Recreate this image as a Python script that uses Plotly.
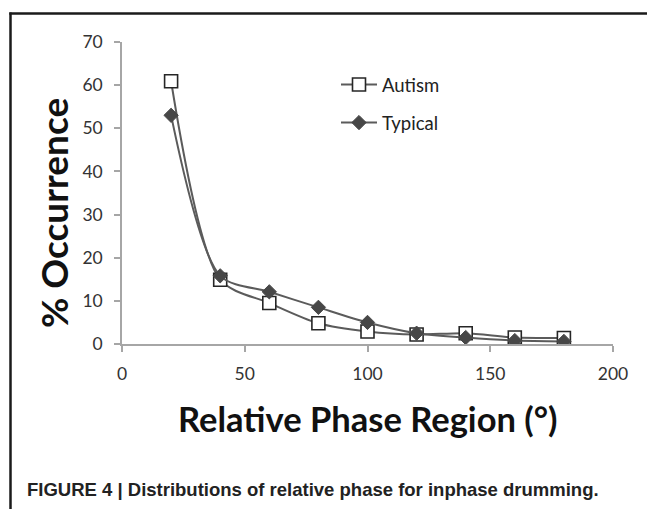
import plotly.graph_objects as go

phase = [20, 40, 60, 80, 100, 120, 140, 160, 180]
autism = [60.9, 14.9, 9.5, 4.8, 2.9, 2.2, 2.5, 1.5, 1.4]
typical = [53.0, 15.8, 12.1, 8.5, 5.0, 2.5, 1.5, 0.8, 0.6]
x_ticks = [0, 50, 100, 150, 200]
y_ticks = [0, 10, 20, 30, 40, 50, 60, 70]

OFF = 8  # page body margin
W, H = 655 - OFF, 509 - OFF
L, T = 122 - OFF, 42 - OFF
R = W - (613 - OFF)
B = H - (344 - OFF)
pw, ph = W - L - R, H - T - B

def px(x):  # page pixel -> paper
    return (x - OFF - L) / pw

def py(y):
    return (H - B - (y - OFF)) / ph

line_col = "#5b5b5b"
fig = go.Figure()
fig.add_trace(go.Scatter(
    x=phase, y=autism, name="Autism", mode="lines+markers",
    line=dict(color=line_col, width=2, shape="spline", smoothing=0.8),
    marker=dict(symbol="square", size=13, color="white",
                line=dict(color="#262626", width=1.6)),
    legendgroup="a"))
fig.add_trace(go.Scatter(
    x=phase, y=typical, name="Typical", mode="lines+markers",
    line=dict(color=line_col, width=2, shape="spline", smoothing=0.8),
    marker=dict(symbol="diamond", size=11, color="#474747",
                line=dict(color="#474747", width=1)),
    legendgroup="t"))

axis_col = "#a6a6a6"
tick_font = dict(family="Lato, Open Sans, sans-serif", size=17.5, color="#333333")
fig.update_xaxes(range=[0, 200], tickvals=x_ticks, showgrid=False, zeroline=False,
                 showline=True, linecolor=axis_col, linewidth=1.5,
                 ticks="outside", ticklen=6, tickcolor=axis_col, tickwidth=1.5,
                 tickfont=tick_font, ticklabelstandoff=7)
fig.update_yaxes(range=[0, 70], tickvals=y_ticks, showgrid=False, zeroline=False,
                 showline=True, linecolor=axis_col, linewidth=1.5,
                 ticks="outside", ticklen=6, tickcolor=axis_col, tickwidth=1.5,
                 tickfont=tick_font, ticklabelstandoff=8)

annotations = [
    dict(text="<b>% Occurrence</b>", textangle=-90, x=px(53), y=py(213),
         xref="paper", yref="paper", showarrow=False, xanchor="center", yanchor="middle",
         font=dict(family="Lato, sans-serif", size=37, color="#111111")),
    dict(text="<b>Relative Phase Region (°)</b>", x=px(367.5), y=py(418),
         xref="paper", yref="paper", showarrow=False, xanchor="center", yanchor="middle",
         font=dict(family="Lato, sans-serif", size=34.5, color="#111111")),
    dict(text="<b>FIGURE 4 | Distributions of relative phase for inphase drumming.</b>",
         x=px(25), y=py(489), xref="paper", yref="paper", showarrow=False,
         xanchor="left", yanchor="middle",
         font=dict(family="Liberation Sans, Arial, sans-serif", size=18.5, color="#222222")),
]

border = dict(color="#1a1a1a", width=2.5)
shapes = [
    dict(type="line", xref="paper", yref="paper", x0=px(10.5), x1=px(10.5),
         y0=py(12.5), y1=py(520), line=border),
    dict(type="line", xref="paper", yref="paper", x0=px(9.3), x1=px(665),
         y0=py(13.5), y1=py(13.5), line=border),
]

fig.update_layout(
    width=W, height=H, margin=dict(l=L, r=R, t=T, b=B),
    paper_bgcolor="white", plot_bgcolor="white",
    showlegend=True,
    legend=dict(x=px(336), y=py(66), xanchor="left", yanchor="top",
                bgcolor="rgba(0,0,0,0)", tracegroupgap=11, itemwidth=36,
                font=dict(family="Lato, sans-serif", size=18.5, color="#222222")),
    annotations=annotations, shapes=shapes,
)

fig.write_html("out.html")
